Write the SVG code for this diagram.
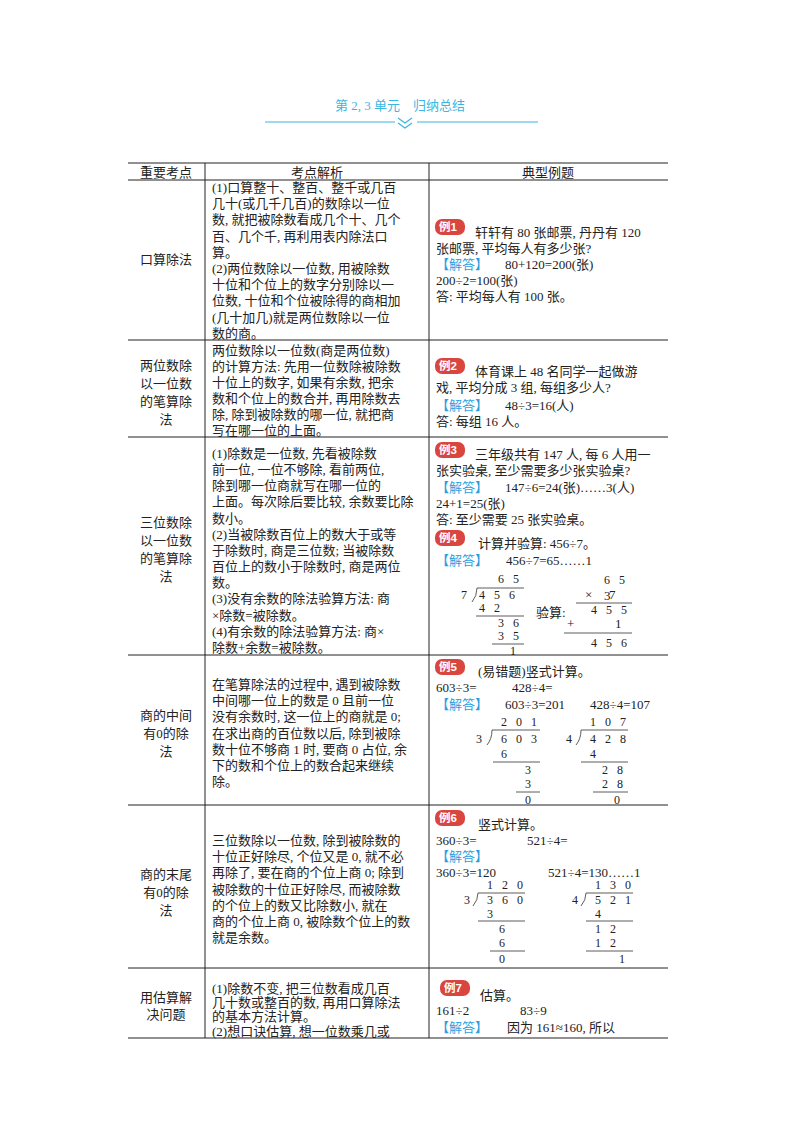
<svg xmlns="http://www.w3.org/2000/svg" width="800" height="1132" viewBox="0 0 800 1132">
<style>
text{font-family:"Liberation Serif","Noto Sans CJK SC",serif;font-size:13px;fill:#222}
.c{text-anchor:middle}
.b{fill:#2b9fe0}
.t{fill:#3cb6e0;font-size:13px}
.bt{fill:#fff;font-family:"Liberation Sans","Noto Sans CJK SC",sans-serif;font-weight:bold;font-size:11.5px}
.bg{fill:#d9453f}
.g{stroke:#222;stroke-width:1;fill:none}
.d{stroke:#333;stroke-width:0.8;fill:none}
.m{font-size:12px;letter-spacing:3px}
</style>
<rect width="800" height="1132" fill="#fff"/>
<g id="title">
<text class="t c" x="400" y="110">第 2, 3 单元　归纳总结</text>
<line x1="265" y1="122" x2="395" y2="122" stroke="#3cb6e0" stroke-width="1.2"/>
<line x1="417" y1="122" x2="538" y2="122" stroke="#3cb6e0" stroke-width="1.2"/>
<path d="M398 118 L405 123 L412 118 M398 123 L405 128 L412 123" stroke="#3cb6e0" stroke-width="1.3" fill="none"/>
</g>
<g id="grid">
<line class="g" x1="128" y1="163" x2="668" y2="163" stroke-width="1.5"/>
<line class="g" x1="128" y1="180" x2="668" y2="180"/>
<line class="g" x1="128" y1="340" x2="668" y2="340"/>
<line class="g" x1="128" y1="437" x2="668" y2="437"/>
<line class="g" x1="128" y1="655" x2="668" y2="655"/>
<line class="g" x1="128" y1="805" x2="668" y2="805"/>
<line class="g" x1="128" y1="968" x2="668" y2="968"/>
<line class="g" x1="128" y1="1038" x2="668" y2="1038"/>
<line class="g" x1="205" y1="163" x2="205" y2="1038"/>
<line class="g" x1="429" y1="163" x2="429" y2="1038"/>
</g>
<g id="header">
<text class="c" x="166" y="177">重要考点</text>
<text class="c" x="317" y="177">考点解析</text>
<text class="c" x="548" y="177">典型例题</text>
</g>
<g id="row1">
<text class="c" x="166" y="264">口算除法</text>
<text x="212" y="192">(1)口算整十、整百、整千或几百</text>
<text x="212" y="208">几十(或几千几百)的数除以一位</text>
<text x="212" y="224">数, 就把被除数看成几个十、几个</text>
<text x="212" y="241">百、几个千, 再利用表内除法口</text>
<text x="212" y="257">算。</text>
<text x="212" y="273">(2)两位数除以一位数, 用被除数</text>
<text x="212" y="289">十位和个位上的数字分别除以一</text>
<text x="212" y="305">位数, 十位和个位被除得的商相加</text>
<text x="212" y="322">(几十加几)就是两位数除以一位</text>
<text x="212" y="338">数的商。</text>
<rect class="bg" x="435" y="219" width="30" height="16" rx="7"/><text class="bt" x="439" y="231">例1</text>
<text x="475" y="237">轩轩有 80 张邮票, 丹丹有 120</text>
<text x="436" y="253">张邮票, 平均每人有多少张?</text>
<text class="b" x="436" y="269">【解答】</text><text x="505" y="269">80+120=200(张)</text>
<text x="436" y="285">200÷2=100(张)</text>
<text x="436" y="301">答: 平均每人有 100 张。</text>
</g>
<g id="row2">
<text class="c" x="166" y="370">两位数除</text>
<text class="c" x="166" y="388">以一位数</text>
<text class="c" x="166" y="406">的笔算除</text>
<text class="c" x="166" y="424">法</text>
<text x="212" y="355">两位数除以一位数(商是两位数)</text>
<text x="212" y="371">的计算方法: 先用一位数除被除数</text>
<text x="212" y="387">十位上的数字, 如果有余数, 把余</text>
<text x="212" y="403">数和个位上的数合并, 再用除数去</text>
<text x="212" y="419">除, 除到被除数的哪一位, 就把商</text>
<text x="212" y="435">写在哪一位的上面。</text>
<rect class="bg" x="435" y="358" width="30" height="16" rx="7"/><text class="bt" x="439" y="370">例2</text>
<text x="475" y="376">体育课上 48 名同学一起做游</text>
<text x="436" y="392">戏, 平均分成 3 组, 每组多少人?</text>
<text class="b" x="436" y="410">【解答】</text><text x="505" y="410">48÷3=16(人)</text>
<text x="436" y="426">答: 每组 16 人。</text>
</g>
<g id="row3">
<text class="c" x="166" y="527">三位数除</text>
<text class="c" x="166" y="545">以一位数</text>
<text class="c" x="166" y="563">的笔算除</text>
<text class="c" x="166" y="581">法</text>
<text x="212" y="458">(1)除数是一位数, 先看被除数</text>
<text x="212" y="474">前一位, 一位不够除, 看前两位,</text>
<text x="212" y="490">除到哪一位商就写在哪一位的</text>
<text x="212" y="506">上面。每次除后要比较, 余数要比除</text>
<text x="212" y="523">数小。</text>
<text x="212" y="539">(2)当被除数百位上的数大于或等</text>
<text x="212" y="555">于除数时, 商是三位数; 当被除数</text>
<text x="212" y="571">百位上的数小于除数时, 商是两位</text>
<text x="212" y="587">数。</text>
<text x="212" y="603">(3)没有余数的除法验算方法: 商</text>
<text x="212" y="620">×除数=被除数。</text>
<text x="212" y="636">(4)有余数的除法验算方法: 商×</text>
<text x="212" y="652">除数+余数=被除数。</text>
<rect class="bg" x="435" y="442" width="30" height="16" rx="7"/><text class="bt" x="439" y="454">例3</text>
<text x="475" y="459">三年级共有 147 人, 每 6 人用一</text>
<text x="436" y="475">张实验桌, 至少需要多少张实验桌?</text>
<text class="b" x="436" y="492">【解答】</text><text x="505" y="492">147÷6=24(张)……3(人)</text>
<text x="436" y="508">24+1=25(张)</text>
<text x="436" y="524">答: 至少需要 25 张实验桌。</text>
<rect class="bg" x="435" y="530" width="30" height="16" rx="7"/><text class="bt" x="439" y="542">例4</text>
<text x="478" y="548">计算并验算: 456÷7。</text>
<text class="b" x="436" y="565">【解答】</text><text x="506" y="565">456÷7=65……1</text>
<text class="m" x="498" y="583">6 5</text>
<text class="m" x="461" y="599">7</text>
<path class="d" d="M472 602 Q477 596 477 588 L524 588"/>
<text class="m" x="479" y="599">4 5 6</text>
<text class="m" x="479" y="612">4 2</text>
<line class="d" x1="476" y1="616" x2="524" y2="616"/>
<text class="m" x="498" y="627">3 6</text>
<text class="m" x="498" y="640">3 5</text>
<line class="d" x1="492" y1="644" x2="524" y2="644"/>
<text class="m" x="510" y="655">1</text>
<text x="536" y="617">验算:</text>
<text class="m" x="604" y="584">6 5</text>
<text x="585" y="599">×</text><text x="604" y="600" font-size="7">3</text><text x="609" y="599">7</text>
<line class="d" x1="576" y1="603" x2="632" y2="603"/>
<text class="m" x="591" y="614">4 5 5</text>
<text x="567" y="628" font-size="10">+</text><text x="615" y="628">1</text>
<line class="d" x1="564" y1="633" x2="632" y2="633"/>
<text class="m" x="591" y="647">4 5 6</text>
</g>
<g id="row4">
<text class="c" x="166" y="720">商的中间</text>
<text class="c" x="166" y="738">有0的除</text>
<text class="c" x="166" y="756">法</text>
<text x="212" y="689">在笔算除法的过程中, 遇到被除数</text>
<text x="212" y="705">中间哪一位上的数是 0 且前一位</text>
<text x="212" y="721">没有余数时, 这一位上的商就是 0;</text>
<text x="212" y="738">在求出商的百位数以后, 除到被除</text>
<text x="212" y="754">数十位不够商 1 时, 要商 0 占位, 余</text>
<text x="212" y="770">下的数和个位上的数合起来继续</text>
<text x="212" y="786">除。</text>
<rect class="bg" x="435" y="659" width="30" height="16" rx="7"/><text class="bt" x="439" y="671">例5</text>
<text x="478" y="676">(易错题)竖式计算。</text>
<text x="436" y="692">603÷3=</text><text x="512" y="692">428÷4=</text>
<text class="b" x="436" y="709">【解答】</text><text x="505" y="709">603÷3=201</text><text x="590" y="709">428÷4=107</text>
<text class="m" x="501" y="726">2 0 1</text>
<text class="m" x="476" y="743">3</text>
<path class="d" d="M487 745 Q492 739 492 730 L540 730"/>
<text class="m" x="501" y="743">6 0 3</text>
<text class="m" x="501" y="758">6</text>
<line class="d" x1="493" y1="762" x2="540" y2="762"/>
<text class="m" x="525" y="774">3</text>
<text class="m" x="525" y="788">3</text>
<line class="d" x1="516" y1="792" x2="540" y2="792"/>
<text class="m" x="525" y="804">0</text>
<text class="m" x="590" y="726">1 0 7</text>
<text class="m" x="566" y="743">4</text>
<path class="d" d="M576 745 Q581 739 581 730 L628 730"/>
<text class="m" x="590" y="743">4 2 8</text>
<text class="m" x="590" y="758">4</text>
<line class="d" x1="581" y1="762" x2="628" y2="762"/>
<text class="m" x="602" y="774">2 8</text>
<text class="m" x="602" y="788">2 8</text>
<line class="d" x1="593" y1="792" x2="628" y2="792"/>
<text class="m" x="614" y="804">0</text>
</g>
<g id="row5">
<text class="c" x="166" y="879">商的末尾</text>
<text class="c" x="166" y="897">有0的除</text>
<text class="c" x="166" y="915">法</text>
<text x="212" y="845">三位数除以一位数, 除到被除数的</text>
<text x="212" y="861">十位正好除尽, 个位又是 0, 就不必</text>
<text x="212" y="877">再除了, 要在商的个位上商 0; 除到</text>
<text x="212" y="894">被除数的十位正好除尽, 而被除数</text>
<text x="212" y="910">的个位上的数又比除数小, 就在</text>
<text x="212" y="926">商的个位上商 0, 被除数个位上的数</text>
<text x="212" y="942">就是余数。</text>
<rect class="bg" x="435" y="810" width="30" height="16" rx="7"/><text class="bt" x="439" y="822">例6</text>
<text x="478" y="829">竖式计算。</text>
<text x="436" y="845">360÷3=</text><text x="527" y="845">521÷4=</text>
<text class="b" x="436" y="861">【解答】</text>
<text x="436" y="877">360÷3=120</text><text x="548" y="877">521÷4=130……1</text>
<text class="m" x="487" y="889">1 2 0</text>
<text class="m" x="464" y="904">3</text>
<path class="d" d="M473 906 Q478 900 478 893 L525 893"/>
<text class="m" x="487" y="904">3 6 0</text>
<text class="m" x="487" y="918">3</text>
<line class="d" x1="478" y1="921" x2="525" y2="921"/>
<text class="m" x="499" y="933">6</text>
<text class="m" x="499" y="947">6</text>
<line class="d" x1="490" y1="951" x2="525" y2="951"/>
<text class="m" x="499" y="963">0</text>
<text class="m" x="595" y="889">1 3 0</text>
<text class="m" x="572" y="904">4</text>
<path class="d" d="M581 906 Q586 900 586 893 L633 893"/>
<text class="m" x="595" y="904">5 2 1</text>
<text class="m" x="595" y="918">4</text>
<line class="d" x1="586" y1="921" x2="633" y2="921"/>
<text class="m" x="595" y="933">1 2</text>
<text class="m" x="595" y="947">1 2</text>
<line class="d" x1="586" y1="951" x2="633" y2="951"/>
<text class="m" x="619" y="963">1</text>
</g>
<g id="row6">
<text class="c" x="166" y="1002">用估算解</text>
<text class="c" x="166" y="1019">决问题</text>
<text x="212" y="993">(1)除数不变, 把三位数看成几百</text>
<text x="212" y="1007">几十数或整百的数, 再用口算除法</text>
<text x="212" y="1021">的基本方法计算。</text>
<text x="212" y="1036">(2)想口诀估算, 想一位数乘几或</text>
<rect class="bg" x="440" y="980" width="30" height="16" rx="7"/><text class="bt" x="444" y="992">例7</text>
<text x="480" y="1000">估算。</text>
<text x="436" y="1015">161÷2</text><text x="520" y="1015">83÷9</text>
<text class="b" x="436" y="1032">【解答】</text><text x="507" y="1032">因为 161≈160, 所以</text>
</g>
</svg>
